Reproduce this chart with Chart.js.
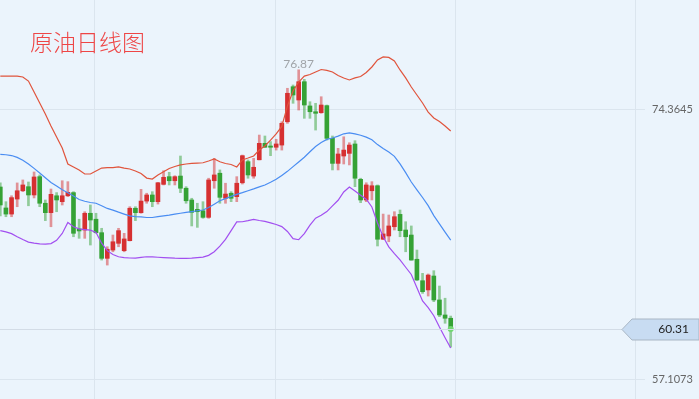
<!DOCTYPE html>
<html>
<head>
<meta charset="utf-8">
<script src="https://cdn.jsdelivr.net/npm/chart.js@4.4.1/dist/chart.umd.min.js"></script>
<style>
  html, body { margin: 0; padding: 0; background: #ebf4fc; }
  #wrap { position: relative; width: 699px; height: 399px; }
</style>
</head>
<body>
<div id="wrap"><canvas id="chart" width="699" height="399"></canvas></div>
<script>
// Chart data
const TITLE = '原油日线图';

const opens = [
  69.38, 68.04, 67.65, 68.61, 69.14, 69.40, 68.87, 70.04, 68.34, 67.74,
  68.82, 68.44, 68.82, 69.02, 66.70, 66.63, 67.70, 67.32, 66.46, 64.82,
  65.35, 65.78, 65.31, 65.95, 68.02, 67.74, 68.48, 68.87, 68.44, 69.55,
  70.04, 69.78, 70.08, 69.30, 68.55, 67.95, 67.86, 67.44, 69.78, 70.26,
  68.66, 68.98, 68.76, 69.65, 71.00, 70.08, 71.12, 72.17, 72.00, 71.92,
  72.06, 73.55, 75.79, 74.94, 76.11, 74.56, 74.19, 74.13, 74.58, 72.49,
  70.89, 71.36, 71.53, 72.13, 69.87, 68.55, 69.14, 69.46, 66.04, 66.25,
  66.84, 67.63, 66.63, 66.31, 64.76, 63.39, 62.80, 63.69, 62.16, 61.20,
  60.99
];
const highs = [
  69.64, 68.44, 68.82, 69.64, 69.83, 69.70, 70.34, 70.15, 68.55, 69.25,
  69.02, 69.78, 69.72, 69.08, 67.32, 67.80, 68.23, 67.70, 66.74, 65.56,
  66.31, 66.74, 66.42, 68.12, 68.12, 69.23, 68.98, 69.08, 69.68, 70.42,
  70.32, 70.10, 71.36, 69.40, 68.66, 68.34, 68.44, 69.94, 71.21, 70.47,
  69.62, 69.08, 70.04, 71.42, 71.11, 71.21, 72.70, 72.64, 72.28, 72.43,
  73.55, 75.69, 75.90, 76.87, 76.26, 74.83, 74.73, 75.15, 74.62, 72.64,
  71.85, 72.59, 72.21, 72.34, 69.94, 69.65, 69.72, 69.51, 67.65, 67.59,
  67.80, 67.91, 67.16, 66.89, 65.35, 63.86, 63.82, 64.03, 63.05, 62.27,
  61.13
];
const lows = [
  67.53, 67.48, 67.48, 68.12, 69.08, 68.18, 68.68, 68.12, 67.23, 66.84,
  67.80, 68.23, 68.76, 66.20, 66.10, 66.10, 65.67, 66.42, 64.71, 64.39,
  65.24, 65.56, 65.24, 65.93, 67.23, 67.70, 68.34, 68.12, 68.29, 69.51,
  69.51, 69.51, 69.02, 68.34, 66.89, 66.80, 67.38, 67.38, 69.30, 68.34,
  68.34, 68.44, 68.44, 69.57, 69.94, 69.94, 71.11, 71.91, 71.38, 71.74,
  71.74, 73.45, 74.73, 74.30, 73.77, 73.77, 73.02, 74.09, 72.38, 70.47,
  70.47, 70.85, 70.79, 69.40, 68.38, 68.44, 68.55, 65.61, 66.02, 65.88,
  66.63, 66.20, 65.24, 64.70, 63.39, 62.58, 62.41, 62.05, 61.09, 60.67,
  59.15
];
const closes = [
  68.23, 67.65, 68.70, 69.14, 69.51, 68.87, 70.02, 68.34, 67.74, 68.91,
  68.55, 68.82, 69.04, 66.42, 66.57, 67.70, 67.27, 66.46, 64.82, 65.40,
  65.88, 66.59, 66.06, 68.02, 67.74, 68.48, 68.87, 68.44, 69.65, 70.00,
  69.78, 70.04, 69.30, 68.50, 67.76, 67.80, 67.44, 69.83, 70.15, 68.72,
  68.93, 68.66, 69.62, 71.38, 70.15, 70.64, 72.17, 71.92, 71.92, 72.13,
  73.45, 75.37, 75.26, 76.11, 74.62, 74.19, 74.09, 74.62, 72.49, 70.89,
  71.49, 71.74, 72.06, 69.94, 68.55, 69.51, 69.46, 66.04, 66.38, 66.89,
  67.48, 66.59, 66.20, 64.71, 63.44, 62.69, 63.75, 62.16, 61.20, 60.99,
  60.31
];

// Bollinger bands
const upperBand = [
  76.47, 76.47, 76.47, 76.47, 76.41, 76.15, 75.45, 74.75, 74.05, 73.28,
  72.57, 71.87, 70.85, 70.66, 70.47, 70.21, 70.21, 70.40, 70.59, 70.62,
  70.62, 70.66, 70.59, 70.53, 70.40, 70.24, 69.95, 69.89, 70.15, 70.36,
  70.56, 70.69, 70.79, 70.85, 70.89, 70.91, 70.93, 71.04, 71.17, 70.99,
  70.88, 70.82, 70.66, 71.11, 71.23, 71.36, 71.74, 72.00, 72.38, 72.77,
  73.25, 74.56, 75.52, 76.09, 76.47, 76.57, 76.73, 76.89, 76.83, 76.73,
  76.51, 76.35, 76.22, 76.35, 76.44, 76.70, 77.05, 77.50, 77.69, 77.66,
  77.43, 76.86, 76.35, 75.77, 75.26, 74.75, 74.17, 73.79, 73.57, 73.28,
  72.96
];
const middleBand = [
  71.47, 71.44, 71.39, 71.27, 71.09, 70.85, 70.57, 70.27, 69.97, 69.67,
  69.44, 69.21, 69.01, 68.80, 68.58, 68.47, 68.39, 68.34, 68.18, 68.01,
  67.90, 67.77, 67.65, 67.53, 67.49, 67.47, 67.43, 67.43, 67.49, 67.54,
  67.58, 67.64, 67.70, 67.76, 67.81, 67.86, 67.91, 68.07, 68.28, 68.50,
  68.64, 68.78, 68.91, 69.02, 69.14, 69.26, 69.39, 69.51, 69.68, 69.87,
  70.12, 70.38, 70.68, 70.98, 71.28, 71.63, 71.97, 72.22, 72.42, 72.51,
  72.63, 72.78, 72.84, 72.77, 72.69, 72.57, 72.40, 72.09, 71.84, 71.61,
  71.34, 70.86, 70.30, 69.70, 69.20, 68.71, 68.19, 67.55, 67.02, 66.50,
  65.99
];
const lowerBand = [
  66.59, 66.51, 66.40, 66.20, 66.02, 65.86, 65.79, 65.74, 65.73, 65.76,
  65.97, 66.41, 67.11, 66.84, 66.70, 66.66, 66.62, 66.48, 65.79, 65.31,
  65.06, 64.92, 64.87, 64.84, 64.83, 64.88, 64.92, 64.91, 64.89, 64.87,
  64.85, 64.83, 64.82, 64.82, 64.83, 64.87, 64.90, 65.01, 65.24, 65.60,
  66.03, 66.59, 67.15, 67.16, 67.23, 67.31, 67.24, 67.18, 67.09, 66.98,
  66.85, 66.54, 66.08, 66.01, 66.40, 66.94, 67.39, 67.57, 67.81, 68.17,
  68.53, 69.06, 69.38, 69.12, 68.85, 68.60, 68.10, 67.08, 66.20, 65.55,
  65.12, 64.72, 64.25, 63.79, 62.94, 62.10, 61.67, 61.15, 60.43, 59.75,
  59.09
];

// right axis labels and vertical grid positions (candle index units)
const yTicks = [57.1073, 74.3645];
const xGrid = [16.8, 48.8, 80.8, 112.8];

const X_MIN = -0.053, X_MAX = 114.51;
const Y_MIN = 55.829, Y_MAX = 81.3323;

const UP = '#d63031', DOWN = '#35a235';
const UP_WICK = 'rgba(214, 48, 49, 0.5)', DOWN_WICK = 'rgba(53, 162, 53, 0.5)';
const GRID = '#dbe5ee';

const idx = closes.map((c, i) => i);
const isUp = idx.map(i => closes[i] >= opens[i]);

const wicks = idx.map(i => ({ x: i, y: [lows[i], highs[i]] }));
const bodies = idx.map(i => ({ x: i, y: [opens[i], closes[i]] }));
const toXY = arr => arr.map((v, i) => ({ x: i, y: v }));

const last = closes.length - 1;

const overlayPlugin = {
    id: 'overlay',
    afterDraw(chart) {
        const ctx = chart.ctx;
        const xs = chart.scales.x, ys = chart.scales.y;
        ctx.save();

        // title
        ctx.fillStyle = '#ee4646';
        ctx.font = '300 23px "Noto Sans CJK SC"';
        ctx.textBaseline = 'alphabetic';
        ctx.textAlign = 'left';
        ctx.fillText(TITLE, 30, 51);

        // highest high label
        let hi = 0;
        highs.forEach((h, i) => { if (h > highs[hi]) hi = i; });
        ctx.fillStyle = '#a0a4a8';
        ctx.font = '12px Lato';
        ctx.textAlign = 'center';
        ctx.fillText(highs[hi].toFixed(2), xs.getPixelForValue(hi), ys.getPixelForValue(highs[hi]) - 2);

        // last price line + tag
        const py = Math.round(ys.getPixelForValue(closes[last])) + 0.5;
        const tagLeft = 622, w = chart.width;
        ctx.strokeStyle = '#d3dce6';
        ctx.lineWidth = 1;
        ctx.beginPath();
        ctx.moveTo(0, py);
        ctx.lineTo(tagLeft, py);
        ctx.stroke();

        ctx.beginPath();
        ctx.moveTo(tagLeft, py);
        ctx.lineTo(tagLeft + 10, py - 10.5);
        ctx.lineTo(w, py - 10.5);
        ctx.lineTo(w, py + 10.5);
        ctx.lineTo(tagLeft + 10, py + 10.5);
        ctx.closePath();
        ctx.fillStyle = '#c8dcf2';
        ctx.fill();
        ctx.strokeStyle = '#a9b6c4';
        ctx.stroke();

        ctx.fillStyle = '#222';
        ctx.font = '12px Lato';
        ctx.textAlign = 'right';
        ctx.textBaseline = 'middle';
        ctx.fillText(closes[last].toFixed(2), 689, py);
        ctx.restore();
    }
};

new Chart(document.getElementById('chart'), {
    type: 'bar',
    data: {
        datasets: [
            {
                type: 'line',
                data: toXY(upperBand),
                borderColor: '#e0543c',
                borderWidth: 1.2,
                pointRadius: 0,
                order: 1
            },
            {
                type: 'line',
                data: toXY(middleBand),
                borderColor: '#4a8df2',
                borderWidth: 1.2,
                pointRadius: 0,
                order: 1
            },
            {
                type: 'line',
                data: toXY(lowerBand),
                borderColor: '#a24ff0',
                borderWidth: 1.2,
                pointRadius: 0,
                order: 1
            },
            {
                data: wicks,
                backgroundColor: isUp.map(u => u ? UP_WICK : DOWN_WICK),
                barThickness: 2,
                grouped: false,
                order: 3
            },
            {
                data: bodies,
                backgroundColor: isUp.map(u => u ? UP : DOWN),
                barThickness: 4,
                minBarLength: 1,
                grouped: false,
                order: 2
            },
            {
                type: 'scatter',
                data: [{ x: last, y: closes[last] }],
                backgroundColor: '#70d870',
                borderWidth: 0,
                pointRadius: 3,
                order: 0
            }
        ]
    },
    options: {
        responsive: false,
        animation: false,
        devicePixelRatio: 1,
        layout: { padding: 0, autoPadding: false },
        plugins: {
            legend: { display: false },
            tooltip: { enabled: false }
        },
        scales: {
            x: {
                type: 'linear',
                min: X_MIN,
                max: X_MAX,
                offset: false,
                afterBuildTicks: s => { s.ticks = xGrid.map(v => ({ value: v })); },
                afterFit: s => { s.height = 0; s.paddingLeft = 0; s.paddingRight = 0; },
                grid: { color: GRID, drawTicks: false, offset: false },
                border: { display: false },
                ticks: { display: false }
            },
            y: {
                position: 'right',
                min: Y_MIN,
                max: Y_MAX,
                afterBuildTicks: s => { s.ticks = yTicks.map(v => ({ value: v })); },
                afterFit: s => { s.width = 54; s.paddingTop = 0; s.paddingBottom = 0; },
                grid: { color: GRID, drawTicks: false },
                border: { display: false },
                ticks: {
                    color: '#666',
                    padding: 7,
                    font: { size: 11, family: 'Lato' },
                    callback: v => v.toFixed(4)
                }
            }
        }
    },
    plugins: [overlayPlugin]
});
</script>
</body>
</html>
